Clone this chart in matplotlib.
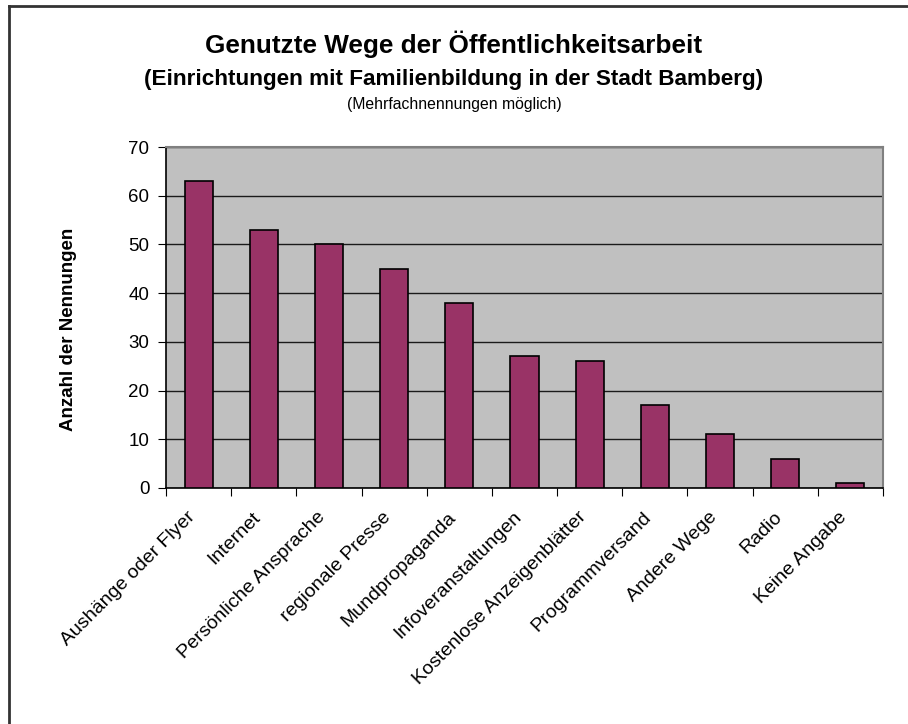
import matplotlib
matplotlib.use('agg')
import matplotlib.pyplot as plt
from matplotlib.lines import Line2D
from matplotlib.transforms import ScaledTranslation

plt.rcParams['font.family'] = ['Liberation Sans', 'DejaVu Sans']

categories = ["Aushänge oder Flyer", "Internet", "Persönliche Ansprache",
              "regionale Presse", "Mundpropaganda", "Infoveranstaltungen",
              "Kostenlose Anzeigenblätter", "Programmversand", "Andere Wege",
              "Radio", "Keine Angabe"]
values = [63, 53, 50, 45, 38, 27, 26, 17, 11, 6, 1]
yticks = [0, 10, 20, 30, 40, 50, 60, 70]

fig = plt.figure(figsize=(9.08, 7.24), dpi=100)
ax = fig.add_axes([166/908, 1 - 488/724, (883 - 166)/908, (488 - 147)/724])
ax.set_facecolor('#C0C0C0')

x = range(len(categories))
ax.bar(x, values, width=0.43, color='#993366', edgecolor='black', linewidth=1.2, zorder=3)

ax.set_xlim(-0.5, len(categories) - 0.5)
ax.set_ylim(0, 70)
ax.set_yticks(yticks)
ax.yaxis.grid(True, color='#1a1a1a', linewidth=1, zorder=1)
ax.set_axisbelow(True)

# ticks sit between the categories, labels under the bars
ax.set_xticks([i - 0.5 for i in range(len(categories) + 1)], minor=False)
ax.set_xticklabels([])
ax.set_xticks(list(x), minor=True)
ax.set_xticklabels(categories, minor=True, rotation=45, ha='right',
                   rotation_mode='anchor', fontsize=14)
ax.tick_params(axis='x', which='minor', length=0, pad=12)
ax.tick_params(axis='x', which='major', length=6, direction='out', color='black')
ax.tick_params(axis='y', length=6, labelsize=13.5, color='black', pad=6)

shift = ScaledTranslation(-12/100, -4/100, fig.dpi_scale_trans)
for lbl in ax.get_xticklabels(minor=True):
    lbl.set_transform(lbl.get_transform() + shift)

for side in ['top', 'right']:
    ax.spines[side].set_color('#808080')
    ax.spines[side].set_linewidth(1.5)
for side in ['left', 'bottom']:
    ax.spines[side].set_color('black')
    ax.spines[side].set_linewidth(1.2)

ax.set_ylabel("Anzahl der Nennungen", fontsize=13.5, fontweight='bold')
ax.yaxis.set_label_coords(-0.124, 0.466)

fig.text(0.5, 1 - 44/724, "Genutzte Wege der Öffentlichkeitsarbeit",
         ha='center', va='center', fontsize=18.8, fontweight='bold')
fig.text(0.5, 1 - 79/724, "(Einrichtungen mit Familienbildung in der Stadt Bamberg)",
         ha='center', va='center', fontsize=16.2, fontweight='bold')
fig.text(0.5, 1 - 104/724, "(Mehrfachnennungen möglich)",
         ha='center', va='center', fontsize=11.3)

# outer chart frame, only left and top edges are inside the picture
fig.add_artist(Line2D([9/908, 9/908], [0, 1 - 5.5/724], color='#333333', linewidth=2,
                      transform=fig.transFigure))
fig.add_artist(Line2D([9/908, 1], [1 - 5.5/724, 1 - 5.5/724], color='#333333', linewidth=2,
                      transform=fig.transFigure))

plt.savefig('out.png', dpi=100)
plt.close()
